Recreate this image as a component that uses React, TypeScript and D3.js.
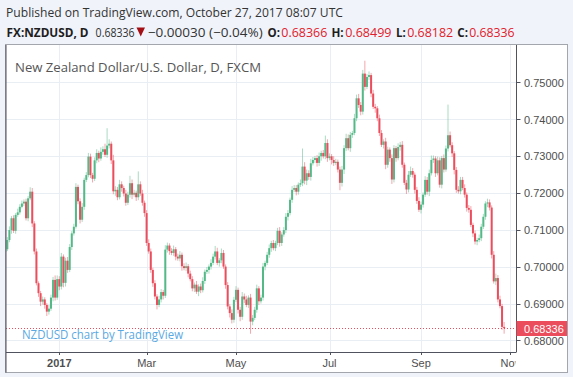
import React from "react";
import * as d3 from "d3";

// NZDUSD daily, 2016-11-25 .. 2017-10-27, prices in 1/10000
const firstOpen = 7040;
const closes = [
  7047, 7072, 7099, 7131, 7097, 7140, 7147, 7162, 7171, 7176,
  7131, 7185, 7203, 7117, 7041, 6955, 6928, 6905, 6911, 6896,
  6878, 6886, 6916, 6964, 6916, 6966, 6946, 7027, 6956, 7016,
  6991, 7053, 7090, 7108, 7216, 7177, 7127, 7162, 7235, 7248,
  7298, 7248, 7238, 7288, 7308, 7293, 7311, 7318, 7303, 7328,
  7333, 7288, 7204, 7208, 7188, 7223, 7213, 7198, 7173, 7195,
  7226, 7195, 7200, 7188, 7223, 7198, 7173, 7145, 7064, 7041,
  6991, 6955, 6919, 6896, 6911, 6931, 6921, 7046, 7057, 7042,
  7037, 7047, 7027, 7022, 7032, 7001, 6996, 7001, 6981, 6966,
  6941, 6951, 6932, 6946, 6936, 6961, 6986, 6991, 7000, 7010,
  7027, 7041, 7010, 7017, 7037, 7000, 6950, 6892, 6874, 6856,
  6910, 6937, 6883, 6864, 6919, 6911, 6896, 6916, 6851, 6861,
  6883, 6941, 6906, 6916, 7000, 7010, 7032, 7050, 7064, 7050,
  7064, 7097, 7064, 7087, 7099, 7135, 7145, 7181, 7208, 7213,
  7203, 7222, 7226, 7271, 7233, 7253, 7243, 7280, 7289, 7294,
  7281, 7299, 7308, 7299, 7335, 7294, 7299, 7289, 7281, 7284,
  7263, 7227, 7263, 7321, 7348, 7321, 7357, 7362, 7402, 7456,
  7438, 7420, 7523, 7487, 7514, 7519, 7469, 7433, 7429, 7402,
  7362, 7330, 7339, 7276, 7317, 7294, 7236, 7321, 7294, 7324,
  7330, 7276, 7227, 7209, 7249, 7259, 7249, 7208, 7178, 7154,
  7168, 7195, 7235, 7203, 7253, 7289, 7293, 7253, 7288, 7222,
  7294, 7263, 7320, 7356, 7329, 7307, 7262, 7208, 7204, 7235,
  7213, 7195, 7159, 7154, 7113, 7090, 7068, 7072, 7077, 7108,
  7135, 7171, 7174, 7160, 7032, 6960, 6969, 6911, 6893, 6836.6,
  6833.6,
];
const upperWicks = [
  6, 8, 10, 6, 8, 5, 10, 7, 8, 6,
  8, 6, 12, 10, 6, 8, 5, 6, 8, 6,
  5, 10, 8, 8, 12, 10, 8, 10, 6, 8,
  10, 8, 6, 8, 10, 6, 8, 10, 6, 8,
  10, 8, 6, 8, 10, 6, 12, 8, 15, 47,
  12, 6, 15, 10, 8, 12, 8, 6, 10, 8,
  20, 10, 8, 6, 35, 8, 10, 6, 8, 10,
  8, 6, 8, 6, 10, 8, 6, 12, 8, 6,
  8, 10, 6, 8, 10, 6, 8, 10, 6, 8,
  8, 6, 10, 6, 8, 10, 6, 8, 6, 10,
  8, 15, 10, 6, 12, 8, 6, 8, 6, 10,
  8, 10, 6, 8, 12, 8, 10, 6, 10, 8,
  8, 10, 6, 8, 10, 6, 8, 10, 6, 8,
  6, 8, 10, 6, 8, 10, 8, 6, 10, 8,
  8, 6, 10, 49, 12, 10, 8, 12, 8, 6,
  8, 10, 6, 8, 20, 10, 8, 6, 10, 8,
  6, 8, 10, 8, 12, 10, 8, 6, 12, 10,
  12, 8, 10, 35, 8, 10, 6, 10, 8, 6,
  10, 8, 6, 10, 8, 6, 10, 8, 6, 10,
  8, 10, 6, 8, 10, 12, 8, 6, 8, 10,
  8, 6, 10, 8, 10, 12, 8, 6, 10, 8,
  6, 10, 8, 83, 10, 8, 6, 8, 10, 8,
  8, 10, 6, 8, 10, 6, 8, 6, 10, 8,
  8, 6, 10, 8, 6, 10, 12, 8, 10, 6,
  13.3,
];
const lowerWicks = [
  8, 5, 6, 10, 6, 8, 5, 6, 4, 7,
  6, 8, 5, 10, 8, 6, 10, 12, 8, 10,
  12, 8, 6, 10, 8, 6, 10, 8, 12, 10,
  8, 6, 8, 6, 5, 8, 10, 6, 8, 6,
  6, 8, 10, 6, 8, 10, 6, 8, 6, 8,
  8, 10, 8, 12, 8, 6, 10, 8, 8, 6,
  8, 12, 6, 10, 8, 6, 8, 10, 8, 6,
  8, 10, 8, 12, 6, 8, 10, 6, 8, 10,
  6, 8, 10, 6, 8, 12, 6, 8, 10, 6,
  8, 10, 6, 12, 8, 6, 8, 6, 10, 8,
  6, 8, 6, 10, 8, 6, 10, 8, 12, 10,
  8, 6, 10, 12, 8, 10, 6, 8, 33, 10,
  6, 8, 10, 6, 8, 10, 6, 8, 10, 6,
  8, 6, 10, 8, 6, 8, 10, 6, 8, 6,
  10, 8, 6, 8, 10, 12, 8, 10, 6, 8,
  10, 8, 12, 6, 8, 10, 6, 12, 8, 6,
  8, 20, 10, 12, 8, 6, 10, 8, 6, 8,
  8, 10, 8, 10, 6, 8, 10, 6, 12, 8,
  8, 6, 10, 12, 8, 10, 12, 8, 10, 6,
  10, 8, 6, 12, 8, 6, 8, 10, 8, 6,
  10, 8, 6, 8, 12, 6, 8, 10, 6, 8,
  10, 8, 6, 8, 6, 10, 12, 8, 6, 8,
  6, 8, 10, 8, 6, 10, 8, 10, 6, 8,
  6, 8, 10, 8, 10, 6, 10, 8, 6, 8,
  15.4,
];

const priceTicks = [0.68, 0.69, 0.7, 0.71, 0.72, 0.73, 0.74, 0.75];
const monthTickDates = ["2017-01-02", "2017-03-01", "2017-05-01", "2017-07-03", "2017-09-01", "2017-11-01"];
const monthTickLabels = ["2017", "Mar", "May", "Jul", "Sep", "Nov"];
const lastPrice = 0.68336;

// header legend pieces: text, left x, width, bold, colour
const legendParts: [string, number, number, boolean, string][] = [
  ["FX:NZDUSD, D", 6.6, 82, true, "#1e1e1e"],
  ["0.68336", 95.6, 39, false, "#333333"],
  ["−0.00030 (−0.04%)", 147.8, 115, false, "#333333"],
  ["O:", 267.5, 12.5, true, "#1e1e1e"],
  ["0.68366", 281.3, 46, false, "#e0212b"],
  ["H:", 331.4, 12.2, true, "#1e1e1e"],
  ["0.68499", 345.2, 46.3, false, "#e0212b"],
  ["L:", 396, 9.8, true, "#1e1e1e"],
  ["0.68182", 407.2, 46, false, "#e0212b"],
  ["C:", 457.3, 10.7, true, "#1e1e1e"],
  ["0.68336", 469.2, 45.4, false, "#e0212b"],
];

const UP = "#53b987";
const DOWN = "#eb4d5c";
const AXIS_FONT = "'Liberation Sans', Arial, sans-serif";
const HEAD_FONT = "'Open Sans', 'Noto Sans', sans-serif";

export default function App() {
  const W = 573;
  const H = 377;
  const left = 6;
  const right = 516.5;
  const top = 45;
  const bottom = 352;

  const days = d3
    .utcDay.range(new Date(Date.UTC(2016, 10, 25)), new Date(Date.UTC(2017, 10, 4)))
    .filter((d) => d.getUTCDay() !== 0 && d.getUTCDay() !== 6);
  const fmt = d3.utcFormat("%Y-%m-%d");
  const keys = days.map(fmt);
  const x = d3
    .scalePoint<string>()
    .domain(keys)
    .range([5.25, 5.25 + 2.0787 * (keys.length - 1)]);
  const y = d3.scaleLinear().domain([0.68, 0.75]).range([340.4, 82.1]);
  const pf = d3.format(".5f");

  const candles = closes.map((c, i) => {
    const o = i === 0 ? firstOpen : closes[i - 1];
    const hi = Math.max(o, c) + upperWicks[i];
    const lo = Math.min(o, c) - lowerWicks[i];
    return { key: keys[i], o: o / 1e4, c: c / 1e4, h: hi / 1e4, l: lo / 1e4 };
  });

  const yLast = y(lastPrice);

  return (
    <svg
      width={W}
      height={H}
      viewBox={`0 0 ${W} ${H}`}
      style={{ position: "absolute", left: 0, top: 0, display: "block" }}
    >
      <defs>
        <clipPath id="plotClip">
          <rect x={left} y={top} width={right - left} height={bottom - top} />
        </clipPath>
        <clipPath id="timeClip">
          <rect x={left} y={bottom} width={right - left - 1} height={22} />
        </clipPath>
      </defs>
      <rect x={0} y={0} width={W} height={H} fill="#f0f3fa" />
      <rect x={5.5} y={44.5} width={562} height={328} fill="#ffffff" stroke="#a3a6ad" strokeWidth={1} />

      {/* grid */}
      <g clipPath="url(#plotClip)">
        {priceTicks.map((p) => (
          <line key={p} x1={left} x2={right} y1={Math.round(y(p)) + 0.5} y2={Math.round(y(p)) + 0.5} stroke="#e9eef4" />
        ))}
        {monthTickDates.map((d) => (
          <line key={d} x1={Math.round(x(d)!) + 0.5} x2={Math.round(x(d)!) + 0.5} y1={top} y2={bottom} stroke="#e9eef4" />
        ))}
      </g>

      {/* title */}
      <text x={15} y={72} fontFamily={HEAD_FONT} fontSize={12.5} fill="#555555" textLength={246} lengthAdjust="spacingAndGlyphs">
        New Zealand Dollar/U.S. Dollar, D, FXCM
      </text>

      {/* watermark */}
      <text x={22} y={339} fontFamily={HEAD_FONT} fontSize={13.5} fill="#5aa9e3" textLength={161} lengthAdjust="spacingAndGlyphs">
        NZDUSD chart by TradingView
      </text>

      {/* candles */}
      <g clipPath="url(#plotClip)">
        {candles.map((k) => {
          const cx = x(k.key)!;
          const col = k.c >= k.o ? UP : DOWN;
          return (
            <line key={"w" + k.key} x1={cx} x2={cx} y1={y(k.h)} y2={y(k.l)} stroke={col} strokeOpacity={0.5} strokeWidth={1} />
          );
        })}
        {candles.map((k) => {
          const cx = x(k.key)!;
          const col = k.c >= k.o ? UP : DOWN;
          const y1 = y(Math.max(k.o, k.c));
          const y2 = y(Math.min(k.o, k.c));
          return (
            <rect key={"b" + k.key} x={cx - 1} width={2} y={y1} height={Math.max(1.2, y2 - y1)} fill={col} />
          );
        })}
        {/* last price dotted line */}
        <line x1={left} x2={right} y1={Math.round(yLast) + 0.5} y2={Math.round(yLast) + 0.5} stroke={DOWN} strokeDasharray="1 2" strokeWidth={1} />
      </g>

      {/* axes lines */}
      <line x1={right} x2={right} y1={top} y2={bottom} stroke="#50535e" />
      <line x1={left} x2={right} y1={bottom + 0.5} y2={bottom + 0.5} stroke="#50535e" />
      <line x1={6} x2={6} y1={top} y2={372.5} stroke="#50535e" />

      {/* price axis */}
      {priceTicks.map((p) => (
        <g key={"pt" + p}>
          <line x1={right} x2={right + 4} y1={Math.round(y(p)) + 0.5} y2={Math.round(y(p)) + 0.5} stroke="#50535e" />
          <text x={524} y={y(p) + 4.5} fontFamily={AXIS_FONT} fontSize={11} fill="#4e4e4e">
            {pf(p)}
          </text>
        </g>
      ))}
      <rect x={right} y={yLast - 7} width={567 - right} height={15} fill={DOWN} />
      <text x={524} y={yLast + 4.5} fontFamily={AXIS_FONT} fontSize={11} fill="#ffffff">
        {pf(lastPrice)}
      </text>

      {/* time axis */}
      <g clipPath="url(#timeClip)">
        {monthTickDates.map((d, i) => (
          <g key={"tt" + d}>
            <line x1={Math.round(x(d)!) + 0.5} x2={Math.round(x(d)!) + 0.5} y1={bottom} y2={bottom + 3} stroke="#50535e" />
            <text
              x={x(d)!}
              y={367}
              textAnchor="middle"
              fontFamily={AXIS_FONT}
              fontSize={11}
              fontWeight={i === 0 ? "bold" : "normal"}
              fill="#4e4e4e"
            >
              {monthTickLabels[i]}
            </text>
          </g>
        ))}
      </g>

      {/* header */}
      <text x={6} y={16.5} fontFamily={HEAD_FONT} fontSize={12.5} fill="#333333" textLength={337} lengthAdjust="spacingAndGlyphs">
        Published on TradingView.com, October 27, 2017 08:07 UTC
      </text>
      {legendParts.map(([t, lx, lw, bold, col], i) => (
        <text
          key={"lg" + i}
          x={lx}
          y={36.5}
          fontFamily={HEAD_FONT}
          fontSize={12.5}
          fontWeight={bold ? "bold" : "normal"}
          fill={col}
          textLength={lw}
          lengthAdjust="spacingAndGlyphs"
        >
          {t}
        </text>
      ))}
      <path d="M136.5,27.5 L145,27.5 L140.75,36.5 Z" fill="#a30f14" />
    </svg>
  );
}
